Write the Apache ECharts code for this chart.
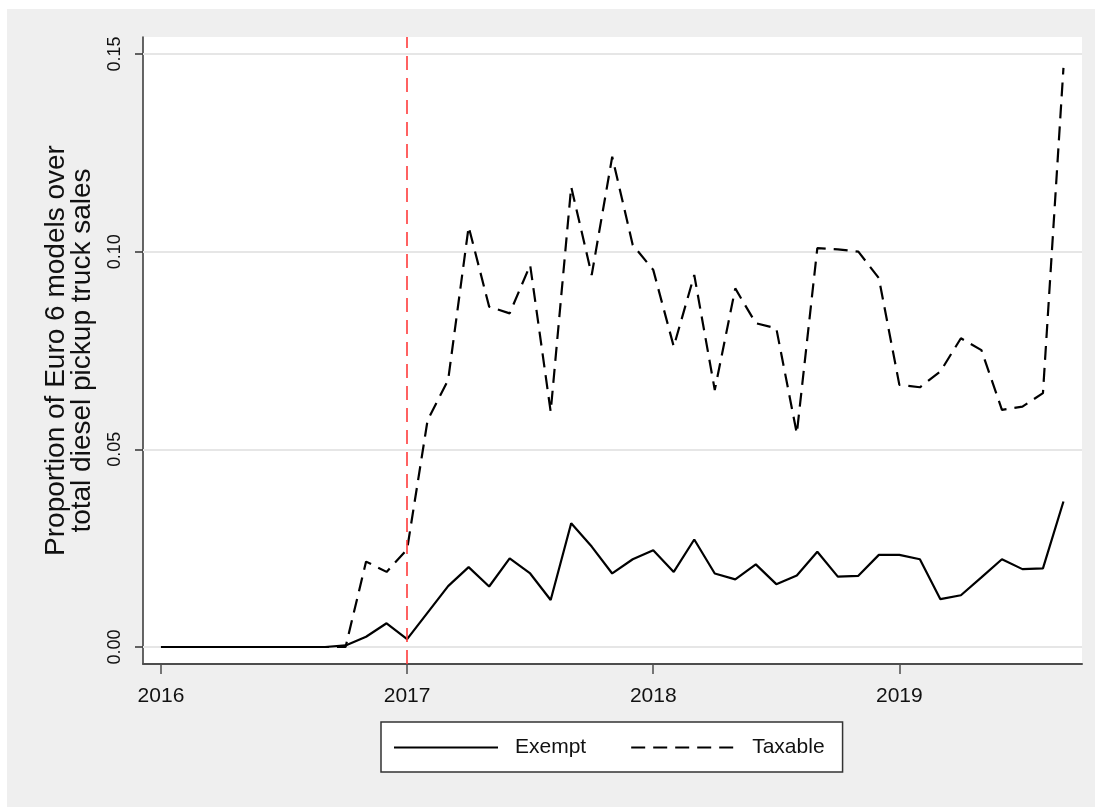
<!DOCTYPE html>
<html lang="en">
<head>
    <meta charset="UTF-8">
    <title>Euro 6 pickup share</title>
    <script src="https://cdn.jsdelivr.net/npm/echarts@6.0.0/dist/echarts.min.js"></script>
    <style>
        html, body, #main {
            width: 100%;
            height: 100%;
            padding: 0;
            margin: 0;
            background: #fff;
        }
    </style>
</head>
<body>
<div id="main"></div>
<script>
    // monthly data, Jan 2016 .. Sep 2019
    var startYear = 2016;
    var yearTicks = [2016, 2017, 2018, 2019];
    var yTicks = [0, 0.05, 0.10, 0.15];
    var policyYear = 2017;
    var seriesNames = ["Exempt", "Taxable"];

    var exempt = [0, 0, 0, 0, 0, 0, 0, 0, 0, 0.0004, 0.0026, 0.006,
        0.002, 0.0087, 0.0154, 0.0202, 0.0153, 0.0224, 0.0186, 0.0119, 0.0313, 0.0254, 0.0186, 0.0222,
        0.0245, 0.019, 0.0272, 0.0186, 0.0171, 0.0209, 0.0159, 0.0181, 0.0241, 0.0178, 0.018, 0.0233,
        0.0233, 0.0222, 0.0121, 0.0131, 0.0176, 0.0222, 0.0197, 0.0199, 0.0368];
    var taxable = [0, 0, 0, 0, 0, 0, 0, 0, 0, 0, 0.0216, 0.019,
        0.0247, 0.0574, 0.0675, 0.1063, 0.0861, 0.0844, 0.0966, 0.0595, 0.1164, 0.0941, 0.124, 0.1017,
        0.0954, 0.076, 0.0941, 0.065, 0.0907, 0.0819, 0.0806, 0.054, 0.1009, 0.1006, 0.1, 0.0933,
        0.0663, 0.0657, 0.0697, 0.0781, 0.0751, 0.06, 0.0608, 0.0642, 0.1465];

    function toPairs(arr) {
        return arr.map(function (v, i) { return [startYear + i / 12, v]; });
    }

    var font = "'Liberation Sans', Arial, sans-serif";
    var chart = echarts.init(document.getElementById("main"));

    chart.setOption({
        animation: false,
        textStyle: { fontFamily: font },
        graphic: [{
            type: "rect",
            z: -10,
            silent: true,
            shape: { x: 7, y: 9, width: 1088, height: 798 },
            style: { fill: "#efefef" }
        }],
        grid: {
            left: 143, top: 37, right: 15, bottom: 143,
            show: true, backgroundColor: "#fff", borderWidth: 0
        },
        legend: {
            left: 381, top: 722,
            data: seriesNames,
            itemWidth: 104, itemHeight: 14, itemGap: 44,
            padding: [15, 18, 14, 12],
            backgroundColor: "#fff",
            borderColor: "#333", borderWidth: 1.5, borderRadius: 0,
            itemStyle: { opacity: 0 },
            textStyle: { fontSize: 21, color: "#111", fontFamily: font, padding: [0, 0, 0, 12] }
        },
        xAxis: {
            type: "value",
            min: startYear - 0.073,
            max: 2019.742,
            axisLine: { onZero: false, lineStyle: { color: "#4d4d4d", width: 2 } },
            axisTick: { customValues: yearTicks, length: 10, lineStyle: { color: "#4d4d4d", width: 1.5 } },
            axisLabel: {
                customValues: yearTicks, fontSize: 21, color: "#111", margin: 22,
                formatter: function (v) { return String(Math.round(v)); }
            },
            splitLine: { show: false }
        },
        yAxis: {
            type: "value",
            min: -0.0043,
            max: 0.1543,
            name: "Proportion of Euro 6 models over\ntotal diesel pickup truck sales",
            nameLocation: "middle",
            nameGap: 48,
            nameTextStyle: { fontSize: 28, color: "#111", lineHeight: 26, fontFamily: font },
            axisLine: { show: true, lineStyle: { color: "#333", width: 1.5 } },
            axisTick: { show: true, customValues: yTicks, length: 8, lineStyle: { color: "#333", width: 1.5 } },
            axisLabel: {
                customValues: yTicks, rotate: 90, fontSize: 18, color: "#111", margin: 19,
                formatter: function (v) { return v.toFixed(2); }
            },
            splitLine: { show: false }
        },
        series: [{
            name: "grid",
            type: "line",
            data: [],
            z: 1,
            silent: true,
            markLine: {
                z: 1,
                silent: true,
                symbol: "none",
                label: { show: false },
                lineStyle: { color: "#e6e6e6", type: "solid", width: 2 },
                data: yTicks.map(function (v) { return { yAxis: v }; })
            }
        }, {
            name: seriesNames[0],
            type: "line",
            z: 3,
            data: toPairs(exempt),
            symbol: "none",
            lineStyle: { color: "#000", width: 2.2, type: "solid" },
            itemStyle: { color: "#000" }
        }, {
            name: seriesNames[1],
            type: "line",
            z: 3,
            data: toPairs(taxable),
            symbol: "none",
            lineStyle: { color: "#000", width: 2.2, type: [14, 8] },
            itemStyle: { color: "#000" }
        }, {
            name: "policy",
            type: "line",
            data: [],
            z: 5,
            silent: true,
            markLine: {
                z: 6,
                silent: true,
                symbol: "none",
                label: { show: false },
                lineStyle: { color: "#ff3b3b", type: [14, 8], width: 1.6 },
                data: [{ xAxis: policyYear }]
            }
        }]
    });
</script>
</body>
</html>
